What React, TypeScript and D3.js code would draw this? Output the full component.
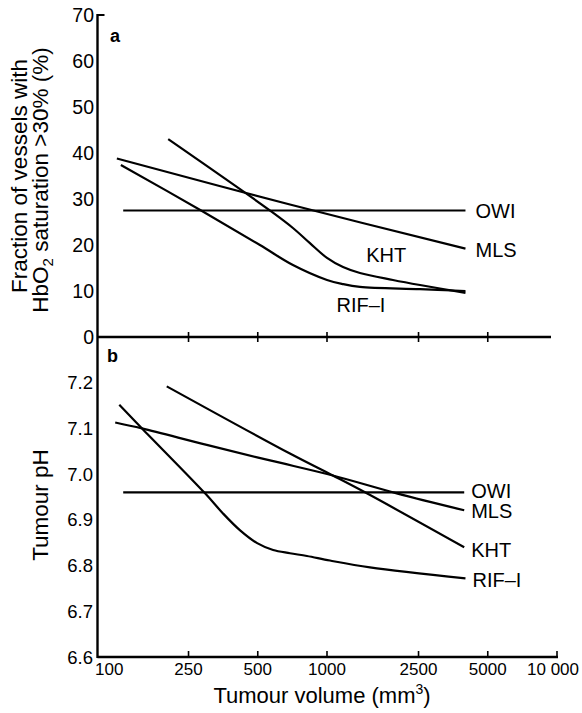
import React from 'react';
import * as d3 from 'd3';

// tumour volume (mm3) vs fraction of vessels with HbO2 > 30 % (%)
const hbOWI = [[130, 27.5], [4000, 27.5]];
const hbMLS = [[122, 38.8], [690, 28.8], [4000, 19.2]];
const hbKHT = [[204, 43.0], [576, 27.2], [711, 23.7], [843, 20.4], [1000, 17.2], [1174, 15.2], [1391, 13.9], [1935, 12.4], [2537, 11.3], [4000, 9.6]];
const hbRIF = [[127, 37.4], [286, 27.4], [511, 20.0], [711, 15.65], [1000, 12.4], [1174, 11.5], [1391, 10.9], [2537, 10.4], [4000, 10.0]];

// tumour volume (mm3) vs tumour pH
const phOWI = [[130, 6.96], [3950, 6.96]];
const phMLS = [[120, 7.113], [157, 7.1], [300, 7.064], [565, 7.03], [1060, 6.997], [2010, 6.958], [3950, 6.921]];
const phKHT = [[201, 7.192], [690, 7.045], [1060, 6.997], [1490, 6.958], [3950, 6.84]];
const phRIF = [[125, 7.152], [157, 7.1], [295, 6.958], [353, 6.914], [419, 6.877], [497, 6.849], [583, 6.834], [690, 6.827], [818, 6.821], [1030, 6.811], [1537, 6.796], [4000, 6.772]];

const xTicks = [100, 250, 500, 1000, 2500, 5000, 10000];
const xTickLabels = ['100', '250', '500', '1000', '2500', '5000', '10 000'];
const hbTicks = [0, 10, 20, 30, 40, 50, 60, 70];
const phTicks = [6.6, 6.7, 6.8, 6.9, 7.0, 7.1, 7.2];

const FONT = "'Liberation Sans', Arial, Helvetica, sans-serif";

const App = () => {
  const x = d3.scaleLog().domain([100, 10000]).range([97, 557]);
  const yTop = d3.scaleLinear().domain([0, 70]).range([337, 15]);
  const yBot = d3.scaleLinear().domain([6.6, 7.3]).range([657, 337]);

  const curve = d3.curveCatmullRom.alpha(0.5);
  const lineTop = d3.line<number[]>().x(d => x(d[0])).y(d => yTop(d[1])).curve(curve);
  const lineBot = d3.line<number[]>().x(d => x(d[0])).y(d => yBot(d[1])).curve(curve);

  const ax = x(100) + 0.5;
  const last = (s: number[][]) => s[s.length - 1];

  const topSeries = [
    { name: 'OWI', data: hbOWI, dx: 10, dy: 7 },
    { name: 'MLS', data: hbMLS, dx: 10, dy: 8 },
    { name: 'KHT', data: hbKHT },
    { name: 'RIF\u2013I', data: hbRIF },
  ];
  const botSeries = [
    { name: 'OWI', data: phOWI, dx: 7, dy: 6 },
    { name: 'MLS', data: phMLS, dx: 7, dy: 8 },
    { name: 'KHT', data: phKHT, dx: 7, dy: 10 },
    { name: 'RIF\u2013I', data: phRIF, dx: 7, dy: 9 },
  ];

  return (
    <svg width={582} height={713} style={{ position: 'absolute', left: 0, top: 0, background: '#fff' }}
      fontFamily={FONT}>
      {/* panel a */}
      <g>
        {topSeries.map(s => (
          <path key={s.name} d={lineTop(s.data) || ''} fill="none" stroke="#000" strokeWidth={2.2} />
        ))}
        {topSeries.filter(s => s.dx !== undefined).map(s => (
          <text key={s.name} x={x(last(s.data)[0]) + (s.dx as number)} y={yTop(last(s.data)[1]) + (s.dy as number)}
            fontSize={20}>{s.name}</text>
        ))}
        <text x={x(1480)} y={yTop(16.3)} fontSize={20}>KHT</text>
        <text x={x(1100)} y={yTop(5.5)} fontSize={20}>RIF{'\u2013'}I</text>

        {hbTicks.map(t => (
          <text key={t} x={94} y={yTop(t)} fontSize={19.5} textAnchor="end" dominantBaseline="central">{t}</text>
        ))}
        <line x1={ax} x2={ax + 7} y1={yTop(70)} y2={yTop(70)} stroke="#000" strokeWidth={2} />
        <line x1={ax} x2={x(10000) - 6} y1={yTop(0)} y2={yTop(0)} stroke="#000" strokeWidth={2.4} />
        {xTicks.slice(1, -1).map(t => (
          <line key={t} x1={x(t)} x2={x(t)} y1={yTop(0) - 5} y2={yTop(0) + 5} stroke="#000" strokeWidth={1.6} />
        ))}
        <text x={110} y={42} fontSize={18} fontWeight="bold">a</text>
      </g>

      {/* panel b */}
      <g>
        {botSeries.map(s => (
          <path key={s.name} d={lineBot(s.data) || ''} fill="none" stroke="#000" strokeWidth={2.2} />
        ))}
        {botSeries.map(s => (
          <text key={s.name} x={x(last(s.data)[0]) + s.dx} y={yBot(last(s.data)[1]) + s.dy}
            fontSize={20}>{s.name}</text>
        ))}
        {phTicks.map(t => (
          <text key={t} x={93} y={yBot(t)} fontSize={18.5} textAnchor="end" dominantBaseline="central">{t.toFixed(1)}</text>
        ))}
        <line x1={ax} x2={x(10000) + 1} y1={yBot(6.6)} y2={yBot(6.6)} stroke="#000" strokeWidth={2.4} />
        {xTicks.slice(1).map(t => (
          <line key={t} x1={x(t)} x2={x(t)} y1={yBot(6.6)} y2={yBot(6.6) - 6} stroke="#000" strokeWidth={1.6} />
        ))}
        {xTicks.map((t, i) => (
          <text key={t}
            x={i === 0 ? x(t) - 2 : i === xTicks.length - 1 ? 579 : x(t)}
            y={yBot(6.6) + 18}
            fontSize={17}
            textAnchor={i === 0 ? 'start' : i === xTicks.length - 1 ? 'end' : 'middle'}>{xTickLabels[i]}</text>
        ))}
        <text x={107} y={362} fontSize={18} fontWeight="bold">b</text>
      </g>

      {/* y axis spanning both panels */}
      <line x1={ax} x2={ax} y1={yTop(70) - 1} y2={yBot(6.6) + 1} stroke="#000" strokeWidth={2.4} />

      {/* axis titles */}
      <text transform={`translate(27,176) rotate(-90)`} fontSize={22.5} textAnchor="middle">Fraction of vessels with</text>
      <text transform={`translate(48,180) rotate(-90)`} fontSize={22.5} textAnchor="middle">
        HbO<tspan fontSize={15} dy={5}>2</tspan><tspan dy={-5}> saturation &gt;30% (%)</tspan>
      </text>
      <text transform={`translate(48,505) rotate(-90)`} fontSize={22.5} textAnchor="middle">Tumour pH</text>
      <text x={322} y={703} fontSize={22} textAnchor="middle">
        Tumour volume (mm<tspan fontSize={14} dy={-9}>3</tspan><tspan dy={9}>)</tspan>
      </text>
    </svg>
  );
};

export default App;
